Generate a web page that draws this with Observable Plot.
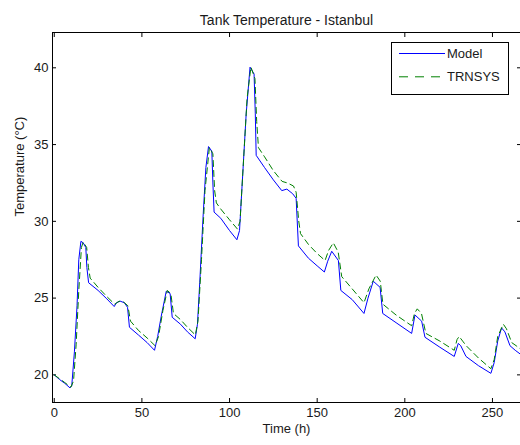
<!DOCTYPE html>
<html>
<head>
<meta charset="utf-8">
<script src="https://cdn.jsdelivr.net/npm/d3@7"></script>
<script src="https://cdn.jsdelivr.net/npm/@observablehq/plot@0.6"></script>
<style>
  html, body { margin: 0; padding: 0; background: #fff; }
  #wrap { position: relative; width: 520px; height: 445px; font-family: "Liberation Sans", Arial, Helvetica, sans-serif; }
  #legend { position: absolute; left: 391px; top: 42px; width: 118px; height: 53px; border: 1px solid #000; background: #fff; box-sizing: border-box; }
  #legend svg { position: absolute; left: -1px; top: -1px; }
</style>
</head>
<body>
<div id="wrap"></div>
<script>
const title = "Tank Temperature - Istanbul";
const xLabel = "Time (h)";
const yLabel = "Temperature (°C)";
const xTicks = [0, 50, 100, 150, 200, 250];
const yTicks = [20, 25, 30, 35, 40];
const seriesNames = ["Model", "TRNSYS"];

const modelTime = [0, 3, 6, 9, 10, 11.5, 13, 14, 15.2, 16.5, 18, 18.6, 19.6, 25, 30, 34.2, 35.5, 37.6, 40, 41.8, 42.9, 48, 53, 57.2, 59, 61, 63.9, 66.1, 67.3, 72, 76, 80.4, 81.7, 83, 85, 86.5, 88, 89.9, 90.5, 91.2, 95, 100, 104.2, 105.7, 107.5, 109.5, 111.7, 114, 114.7, 115.2, 120, 125, 129.8, 132.7, 136, 138, 139.3, 145, 150, 154.1, 156, 158.3, 162.1, 163.5, 170, 176.7, 179, 182, 185.9, 187.4, 195, 203.9, 205.8, 209.6, 211.5, 220, 228.2, 230.5, 231.9, 234.9, 242, 249.1, 251, 253, 255.2, 257.1, 260, 263, 265.7];
const modelTemp = [20.0, 19.7, 19.45, 19.15, 19.3, 21.5, 24.5, 27.5, 28.7, 28.6, 28.3, 27.0, 26.0, 25.5, 24.95, 24.45, 24.7, 24.8, 24.7, 24.4, 23.1, 22.6, 22.1, 21.6, 22.5, 23.8, 25.45, 25.3, 23.75, 23.3, 22.8, 22.35, 23.3, 26.0, 30.5, 33.5, 34.87, 34.57, 32.5, 30.6, 30.2, 29.4, 28.8, 29.4, 33, 37, 40.04, 39.6, 37, 34.3, 33.5, 32.7, 32.0, 32.1, 31.8, 31.5, 28.4, 27.6, 27.1, 26.7, 27.4, 28.05, 27.45, 25.5, 24.9, 24.0, 25.0, 26.1, 25.7, 24.0, 23.4, 22.7, 23.9, 23.5, 22.45, 21.8, 21.2, 22.05, 21.9, 21.2, 20.6, 20.1, 20.8, 22.2, 23.06, 22.8, 21.9, 21.6, 21.37];

const trnsysTime = [0, 3, 6, 9.5, 11, 12.5, 14, 15.5, 16.5, 18.5, 19.5, 20.5, 25, 30, 34.5, 37, 39.5, 42, 43.5, 48, 53, 57.5, 59.5, 62, 64.5, 66.5, 68, 72, 76, 80.5, 82, 84, 86, 88.5, 90.5, 91.5, 92.5, 95, 100, 104.5, 106, 108, 110, 112.2, 114.5, 115.5, 116.5, 120, 125, 130, 133, 136.5, 138, 139.5, 140.5, 145, 150, 154.5, 156.5, 159.2, 162, 164, 170, 176.7, 179.5, 183.6, 186, 187.5, 195, 203.9, 205.5, 207.1, 209.5, 212, 220, 228.2, 229.8, 231, 233, 235, 242, 249.1, 251, 253, 256.2, 258, 261, 263.5, 265.7];
const trnsysTemp = [20.0, 19.75, 19.5, 19.2, 19.6, 22, 25.5, 28.3, 28.65, 28.3, 27, 26.3, 25.7, 25.1, 24.6, 24.8, 24.75, 24.5, 23.5, 22.9, 22.4, 21.9, 22.5, 24.2, 25.5, 25.3, 24.0, 23.6, 23.1, 22.6, 23.5, 27.5, 32, 34.8, 34.4, 32, 31.2, 30.8, 30.1, 29.5, 30, 34, 38, 40.05, 39.3, 36.5, 34.8, 34.2, 33.3, 32.6, 32.5, 32.3, 31.9, 30, 29.2, 28.5, 27.9, 27.45, 28.1, 28.6, 28.0, 26.4, 25.6, 24.7, 25.6, 26.5, 26.1, 24.6, 23.9, 23.2, 24.0, 24.3, 24.0, 22.7, 22.2, 21.6, 22.3, 22.5, 22.2, 21.9, 21.1, 20.4, 21.0, 22.5, 23.3, 23.0, 22.1, 21.9, 21.7];

const model = modelTime.map((t, i) => ({t, v: modelTemp[i]}));
const trnsys = trnsysTime.map((t, i) => ({t, v: trnsysTemp[i]}));

const font = '"Liberation Sans", Arial, Helvetica, sans-serif';
const ink = "#1a1a1a";

const chart = Plot.plot({
  width: 520,
  height: 445,
  marginLeft: 52,
  marginRight: 0,
  marginTop: 32,
  marginBottom: 43,
  style: {fontFamily: font, fontSize: "13px", color: ink, background: "#fff", overflow: "visible"},
  x: {domain: [-1, 266]},
  y: {domain: [18.2, 42.3]},
  marks: [
    Plot.axisX(xTicks, {anchor: "bottom", tickSize: -4, tickPadding: 9, label: null, stroke: "#000", fill: ink}),
    Plot.axisX(xTicks, {anchor: "top", tickSize: -4, tickFormat: () => "", label: null, stroke: "#000"}),
    Plot.axisY(yTicks, {anchor: "left", tickSize: -4, tickPadding: 8, label: null, stroke: "#000", fill: ink}),
    Plot.axisY(yTicks, {anchor: "right", tickSize: -4, tickFormat: () => "", label: null, stroke: "#000"}),
    Plot.line(model, {x: "t", y: "v", stroke: "#0000ff", strokeWidth: 1}),
    Plot.line(trnsys, {x: "t", y: "v", stroke: "#008000", strokeWidth: 1, strokeDasharray: "6,4"}),
    Plot.frame({stroke: "#000"}),
    Plot.text([title], {frameAnchor: "top", dy: -17, text: d => d, fill: ink, fontSize: 14}),
    Plot.text([xLabel], {frameAnchor: "bottom", dy: 30, text: d => d, fill: ink, fontSize: 13}),
    Plot.text([yLabel], {frameAnchor: "left", dx: -33, dy: -1, rotate: -90, text: d => d, fill: ink, fontSize: 13})
  ]
});

const wrap = document.getElementById("wrap");
wrap.appendChild(chart);

const legend = document.createElement("div");
legend.id = "legend";
const colors = ["#0000ff", "#008000"];
const dashes = [null, "9,7"];
let svg = `<svg width="118" height="53" xmlns="http://www.w3.org/2000/svg" style="font-family:${font.replace(/"/g, "'")};font-size:13px">`;
seriesNames.forEach((name, i) => {
  const y = 11.5 + i * 23.3;
  svg += `<line x1="8" x2="54" y1="${y}" y2="${y}" stroke="${colors[i]}" stroke-width="1" ${dashes[i] ? `stroke-dasharray="${dashes[i]}"` : ""}/>`;
  svg += `<text x="56" y="${y}" dominant-baseline="central" fill="${ink}">${name}</text>`;
});
svg += `</svg>`;
legend.innerHTML = svg;
wrap.appendChild(legend);
</script>
</body>
</html>
